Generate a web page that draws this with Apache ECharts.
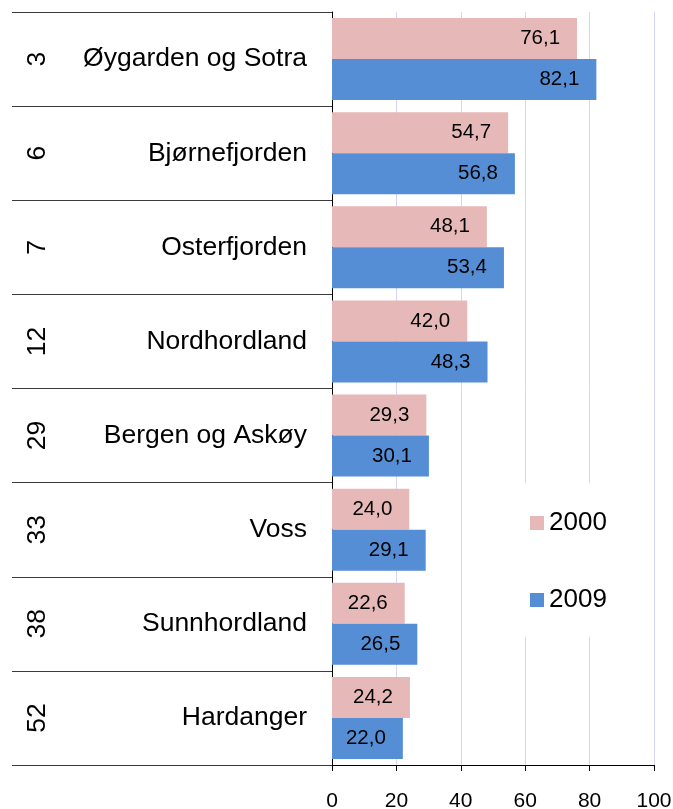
<!DOCTYPE html>
<html>
<head>
<meta charset="utf-8">
<script src="https://cdn.jsdelivr.net/npm/echarts@6/dist/echarts.min.js"></script>
<style>
html,body{margin:0;padding:0;background:#fff;}
#chart{width:673px;height:809px;}
</style>
</head>
<body>
<div id="chart"></div>
<script>
var regions = ['Øygarden og Sotra','Bjørnefjorden','Osterfjorden','Nordhordland','Bergen og Askøy','Voss','Sunnhordland','Hardanger'];
var ranks = ['3','6','7','12','29','33','38','52'];
var values2000 = [76.1,54.7,48.1,42.0,29.3,24.0,22.6,24.2];
var values2009 = [82.1,56.8,53.4,48.3,30.1,29.1,26.5,22.0];
var xTicks = {min:0, max:100, interval:20};

var font = 'Liberation Sans, Arial, sans-serif';
function fmt(p){ return p.value.toFixed(1).replace('.', ','); }

var chart = echarts.init(document.getElementById('chart'));
chart.setOption({
  animation:false,
  backgroundColor:'#fff',
  textStyle:{fontFamily:font},
  grid:{left:332, right:19, top:12, bottom:44, containLabel:false, outerBoundsMode:'none'},
  legend:{
    data:['2000','2009'], orient:'vertical', left:520, top:483,
    padding:[27,20,24,10], itemWidth:14, itemHeight:14, itemGap:51,
    backgroundColor:'#fff', icon:'rect',
    textStyle:{fontSize:26, color:'#000', fontFamily:font}
  },
  xAxis:{
    type:'value', min:xTicks.min, max:xTicks.max, interval:xTicks.interval,
    axisLine:{show:true, lineStyle:{color:'#000', width:1}},
    axisTick:{show:true, length:6, lineStyle:{color:'#000'}},
    axisLabel:{fontSize:21, color:'#000', margin:26, fontFamily:font},
    splitLine:{show:true, lineStyle:{color:'#d4d4f8', width:1}}
  },
  yAxis:[{
    type:'category', data:regions, inverse:true, position:'left',
    axisLine:{show:true, lineStyle:{color:'#000', width:1}},
    axisTick:{show:true, length:320, lineStyle:{color:'#3a3a3a', width:1}},
    axisLabel:{fontSize:26.5, color:'#000', margin:25, fontFamily:font, padding:[4,0,0,0]}
  },{
    type:'category', data:ranks, inverse:true, position:'left',
    axisLine:{show:false}, axisTick:{show:false},
    axisLabel:{fontSize:26.5, color:'#000', margin:281, rotate:90, fontFamily:font}
  }],
  series:[{
    name:'2000', type:'bar', data:values2000, yAxisIndex:0,
    barGap:'0%', barCategoryGap:'13%',
    itemStyle:{color:'#e6b9b8'},
    label:{show:true, position:'insideRight', distance:17, fontSize:20.5, color:'#000', formatter:fmt, fontFamily:font}
  },{
    name:'2009', type:'bar', data:values2009, yAxisIndex:0,
    barGap:'0%', barCategoryGap:'13%',
    itemStyle:{color:'#558ed5'},
    label:{show:true, position:'insideRight', distance:17, fontSize:20.5, color:'#000', formatter:fmt, fontFamily:font}
  }]
});
</script>
</body>
</html>
